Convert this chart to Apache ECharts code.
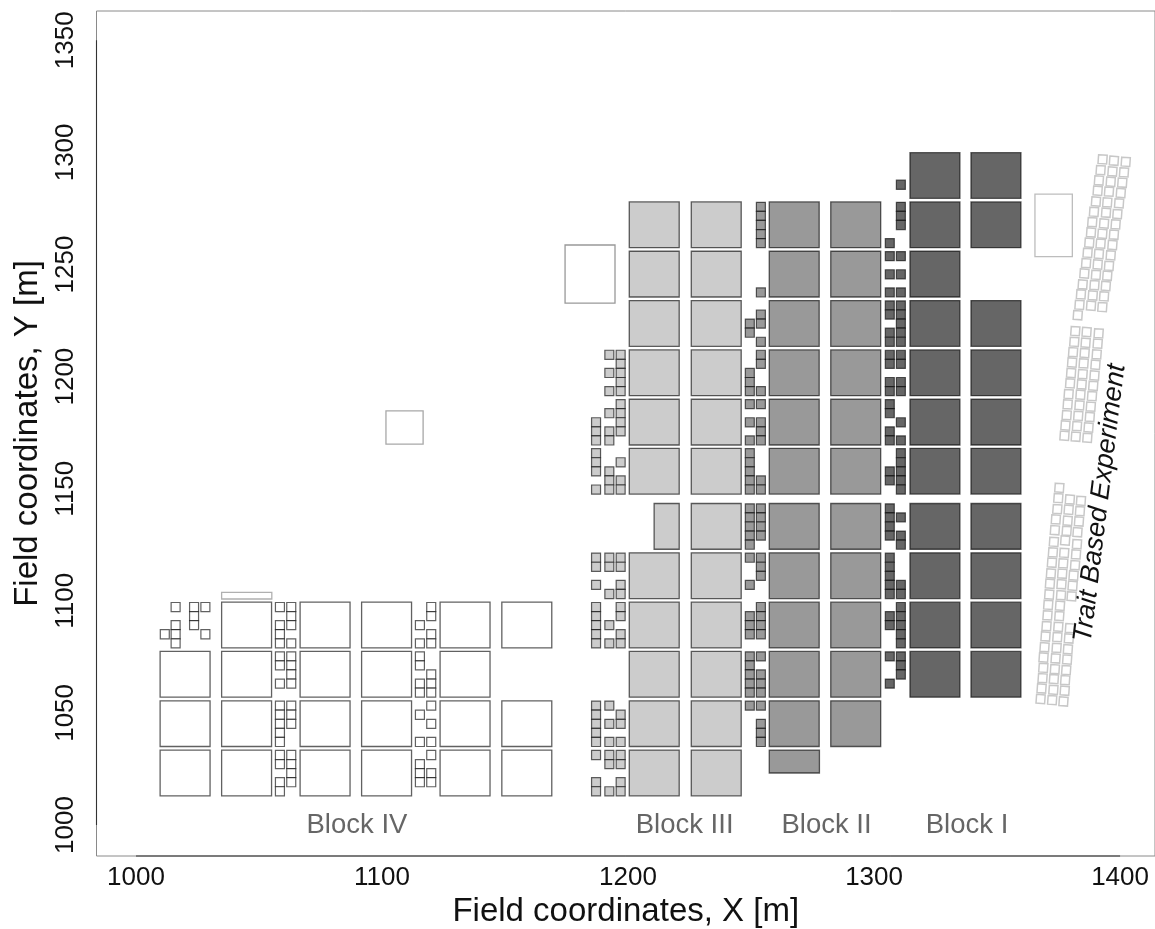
<!DOCTYPE html>
<html><head><meta charset="utf-8">
<style>html,body{margin:0;padding:0;background:#fff}#c{width:1155px;height:929px}</style>
<script src="https://cdn.jsdelivr.net/npm/echarts@6/dist/echarts.min.js"></script>
</head><body><div id="c"></div>
<script>
// ---- data (field metres) ----
const xTicks=[1000,1100,1200,1300,1400];
const yTicks=[1000,1050,1100,1150,1200,1250,1300,1350];
const blockLabels=[["Block IV",1089.8,1000],["Block III",1223,1000],["Block II",1280.7,1000],["Block I",1337.8,1000]];
const traitLabel=["Trait Based Experiment",1391.9,1143.6];
// bottom edge of each whole-plot row
const rowBottoms=[1013,1035,1057,1079,1101,1123,1147.6,1169.5,1191.5,1213.5,1235.5,1257.5,1279.5];
// [left edge, row indices]
const plotsIV=[[1009.8,[0,1,2]],[1034.8,[0,1,2,3]],[1066.7,[0,1,2,3]],[1091.7,[0,1,2,3]],[1123.6,[0,1,2,3]],[1148.7,[0,1,3]]];
const plotsIII=[[1200.5,[0,1,2,3,4,6,7,8,9,10,11]],[1225.7,[0,1,2,3,4,5,6,7,8,9,10,11]]];
const plotsII=[[1257.4,[1,2,3,4,5,6,7,8,9,10,11]],[1282.4,[1,2,3,4,5,6,7,8,9,10,11]]];
const plotsI=[[1314.6,[2,3,4,5,6,7,8,9,10,11,12]],[1339.4,[2,3,4,5,6,7,8,9,11,12]]];
// explicit rectangles [x0,y0,x1,y1]
const partialIII=[[1210.6,1123,1220.8,1143.4]];
const partialII=[[1257.4,1023.2,1277.8,1033.4]];
const thinIV=[[1034.8,1100.8,1055.2,1103.8]];
const isolatedA=[[1101.6,1169.9,1116.7,1184.7]];
const isolatedB=[[1174.4,1232.8,1194.7,1258.7]];
const isolatedC=[[1365.4,1253.5,1380.6,1281.4]];
// sub-plots: [column centre, row index, occupied slots from the bottom of that row]
const smallIV=[
 [1011.7,3,[1]],[1016.1,3,[4,2,1,0]],[1023.6,3,[4,3,2]],[1028.2,3,[4,1]],
 [1058.5,3,[4,2,1,0]],[1063.1,3,[4,3,2,0]],[1058.5,2,[4,3,1]],[1063.1,2,[4,3,2,1]],
 [1058.5,1,[4,3,2,1,0]],[1063.1,1,[4,3,2]],[1058.5,0,[4,3,1,0]],[1063.1,0,[4,3,2,1]],
 [1115.4,3,[2,0]],[1120,3,[4,3,1,0]],[1115.4,2,[4,3,1,0]],[1120,2,[2,1,0]],
 [1115.4,1,[3,0]],[1120,1,[4,2,0]],[1115.4,0,[3,2,1]],[1120,0,[4,2,1]]];
const smallIII=[
 [1187,8,[]],[1192.4,8,[4,2,0]],[1197,8,[4,3,2,1,0]],
 [1187,7,[2,1,0]],[1192.4,7,[3,1,0]],[1197,7,[4,3,2,1]],
 [1187,6,[4,3,2,0]],[1192.4,6,[2,1,0]],[1197,6,[3,1,0]],
 [1187,4,[4,3,1]],[1192.4,4,[4,3,0]],[1197,4,[4,3,1,0]],
 [1187,3,[4,3,2,1,0]],[1192.4,3,[2,0]],[1197,3,[4,3,1,0]],
 [1187,1,[4,3,2,1,0]],[1192.4,1,[4,2,0]],[1197,1,[3,2,0]],
 [1187,0,[4,1,0]],[1192.4,0,[4,3,0]],[1197,0,[4,3,1,0]]];
const smallII=[
 [1254,11,[4,3,2,1,0]],[1254,10,[0]],
 [1249.5,9,[2,1]],[1254,9,[3,2,0]],
 [1249.5,8,[2,1,0]],[1254,8,[4,3,0]],
 [1249.5,7,[4,2,0]],[1254,7,[4,2,1,0]],
 [1249.5,6,[4,3,2,1,0]],[1254,6,[1,0]],
 [1249.5,5,[4,3,2,1,0]],[1254,5,[4,3,2,1]],
 [1249.5,4,[4,1]],[1254,4,[4,3,2]],
 [1249.5,3,[3,2,1]],[1254,3,[4,3,2,1]],
 [1249.5,2,[4,3,2,1,0]],[1254,2,[4,2,1,0]],
 [1249.5,1,[4]],[1254,1,[4,2,1,0]]];
const smallI=[
 [1310.9,12,[1]],
 [1306.4,11,[0]],[1310.9,11,[4,3,2]],
 [1306.4,10,[4,2,0]],[1310.9,10,[4,2,0]],
 [1306.4,9,[4,3,1,0]],[1310.9,9,[4,3,2,1,0]],
 [1306.4,8,[4,3,1,0]],[1310.9,8,[4,3,1,0]],
 [1306.4,7,[4,3,1,0]],[1310.9,7,[2,0]],
 [1306.4,6,[2,1]],[1310.9,6,[4,3,2,1,0]],
 [1306.4,5,[4,3,2,1]],[1310.9,5,[3,1,0]],
 [1306.4,4,[4,3,2,1,0]],[1310.9,4,[1,0]],
 [1306.4,3,[3,2]],[1310.9,3,[4,3,2,1,0]],
 [1306.4,2,[4,1]],[1310.9,2,[4,3,2]]];
// trait-based experiment sub-plot centres [x,y]
const traitUpperA=[[1392.9,1296.9],[1392.1,1292.1],[1391.4,1287.5],[1390.9,1282.9],[1390.2,1278.1],[1389.4,1273.5],[1388.7,1268.9],[1388.2,1264.3],[1387.5,1259.7],[1386.8,1255.2],[1386.2,1250.6],[1385.5,1246.0],[1384.8,1241.1],[1384.1,1236.7],[1383.5,1232.0],[1382.8,1227.4]];
const traitUpperB=[[1397.5,1296.3],[1396.9,1291.5],[1396.2,1286.9],[1395.5,1282.5],[1394.8,1277.7],[1394.3,1273.1],[1393.5,1268.3],[1392.8,1263.7],[1392.1,1259.3],[1391.4,1254.7],[1390.9,1250.0],[1390.2,1245.4],[1389.6,1240.8],[1388.9,1236.2],[1388.2,1231.6]];
const traitUpperC=[[1402.3,1295.8],[1401.6,1291.1],[1400.9,1286.5],[1400.3,1281.9],[1399.6,1277.3],[1398.9,1272.5],[1398.2,1267.9],[1397.5,1263.3],[1396.9,1258.7],[1396.2,1254.1],[1395.5,1249.4],[1394.8,1245.0],[1394.2,1240.4],[1393.5,1235.8],[1392.8,1231.0]];
const traitMidA=[[1381.8,1220.3],[1381.4,1215.5],[1380.9,1210.9],[1380.5,1206.3],[1380.1,1201.6],[1379.7,1197.0],[1379.1,1192.2],[1378.7,1187.6],[1378.3,1182.8],[1377.8,1178.2],[1377.4,1173.6]];
const traitMidB=[[1386.4,1219.9],[1386.0,1215.1],[1385.6,1210.5],[1385.2,1205.9],[1384.8,1201.1],[1384.4,1196.5],[1383.9,1191.9],[1383.5,1187.2],[1383.0,1182.5],[1382.5,1177.9],[1382.0,1173.2]];
const traitMidC=[[1391.3,1219.3],[1390.9,1214.7],[1390.5,1209.9],[1390.0,1205.3],[1389.6,1200.5],[1389.1,1195.9],[1388.6,1191.3],[1388.1,1186.6],[1387.7,1182.0],[1387.2,1177.3],[1386.7,1172.7]];
const traitLowA=[[1375.3,1150.4],[1374.9,1145.8],[1374.5,1140.9],[1373.9,1136.3],[1373.5,1131.5],[1373.1,1126.3],[1372.7,1121.6],[1372.3,1117.0],[1371.9,1112.2],[1371.5,1107.6],[1371.2,1102.8],[1370.8,1098.2],[1370.5,1093.5],[1370.1,1088.7],[1369.7,1084.1],[1369.3,1079.3],[1368.9,1074.7],[1368.8,1070.1],[1368.5,1065.5],[1368.1,1060.9],[1367.7,1056.2]];
const traitLowB=[[1379.6,1145.2],[1379.1,1140.6],[1378.7,1135.7],[1378.3,1131.2],[1377.7,1126.9],[1377.3,1121.4],[1376.9,1116.7],[1376.5,1112.1],[1376.2,1107.4],[1376.0,1102.5],[1375.6,1097.8],[1375.3,1093.2],[1374.9,1088.4],[1374.5,1083.8],[1374.2,1079.0],[1373.8,1074.3],[1373.5,1069.5],[1373.1,1065.1],[1372.9,1060.3],[1372.4,1055.7]];
const traitLowC=[[1384.1,1144.6],[1383.7,1140.0],[1383.3,1135.4],[1382.7,1130.6],[1382.5,1125.3],[1382.1,1120.7],[1381.7,1115.9],[1381.1,1111.3],[1380.7,1106.7],[1380.3,1102.0],[1379.6,1087.8],[1379.2,1083.2],[1378.8,1078.4],[1378.5,1073.8],[1378.1,1069.1],[1377.7,1064.6],[1377.5,1059.9],[1377.0,1055.1]];
const axisSpanX=[[1000,986.17],[1400,986.17]];
const axisSpanY=[[983.94,1000],[983.94,1350]];

// ---- build ----
const FONT='"Liberation Sans",Arial,sans-serif';
const PLOT_W=20.3, PLOT_H=20.4, SUB_W=3.65, SUB_H=4.05;
function plotRects(cols){const o=[];cols.forEach(([x,rows])=>rows.forEach(r=>o.push([x,rowBottoms[r],x+PLOT_W,rowBottoms[r]+PLOT_H])));return o;}
function subRects(list){const o=[];list.forEach(([c,r,slots])=>slots.forEach(k=>{const y=rowBottoms[r]+k*SUB_H;o.push([c-SUB_W/2,y,c+SUB_W/2,y+SUB_H]);}));return o;}
function rectSeries(data,fill,stroke,lw){return{type:'custom',coordinateSystem:'cartesian2d',silent:true,animation:false,clip:true,data,
 encode:{x:[0,2],y:[1,3]},
 renderItem(p,api){const a=api.coord([api.value(0),api.value(3)]),b=api.coord([api.value(2),api.value(1)]);
  return{type:'rect',shape:{x:a[0],y:a[1],width:b[0]-a[0],height:b[1]-a[1]},style:{fill,stroke,lineWidth:lw}};}};}
const TILT=4*Math.PI/180, HW=1.75, HH=1.95;
function traitSeries(data){return{type:'custom',coordinateSystem:'cartesian2d',silent:true,animation:false,data,
 encode:{x:0,y:1},
 renderItem(p,api){const c=api.coord([api.value(0),api.value(1)]),ux=api.size([1,1]);
  const w=HW*ux[0],h=HH*ux[1],cs=Math.cos(TILT),sn=Math.sin(TILT);
  const pts=[[-w,-h],[w,-h],[w,h],[-w,h]].map(([a,b])=>[c[0]+a*cs-b*sn,c[1]+a*sn+b*cs]);
  return{type:'polygon',shape:{points:pts},style:{fill:'#fff',stroke:'#c8c8c8',lineWidth:1.5}};}};}
function lineSeries(data){return{type:'line',data,showSymbol:false,silent:true,animation:false,clip:false,lineStyle:{color:'#333',width:1.1}};}
const dark='rgba(0,0,0,0.62)';
const textSeries={type:'custom',coordinateSystem:'cartesian2d',silent:true,animation:false,clip:false,
 data:blockLabels.map(b=>[b[1],b[2]]),encode:{x:0,y:1},
 renderItem(p,api){const c=api.coord([api.value(0),api.value(1)]);
  return{type:'text',x:c[0],y:c[1],style:{text:blockLabels[p.dataIndex][0],fill:'#666',font:'27.5px '+FONT,textAlign:'center',textVerticalAlign:'middle'}};}};
const traitText={type:'custom',coordinateSystem:'cartesian2d',silent:true,animation:false,clip:false,
 data:[[traitLabel[1],traitLabel[2]]],encode:{x:0,y:1},
 renderItem(p,api){const c=api.coord([api.value(0),api.value(1)]);
  return{type:'text',x:c[0],y:c[1],rotation:83*Math.PI/180,style:{text:traitLabel[0],fill:'#111',font:'italic 27px '+FONT,textAlign:'center',textVerticalAlign:'middle'}};}};
const chart=echarts.init(document.getElementById('c'),null,{renderer:'canvas'});
chart.setOption({animation:false,backgroundColor:'#fff',
 grid:{left:96.5,right:0,top:11,bottom:73,outerBoundsMode:'none',show:true,borderColor:'#8a8a8a',borderWidth:1,backgroundColor:'#fff'},
 xAxis:{type:'value',min:983.94,max:1414.2,splitLine:{show:false},axisLine:{show:false},axisTick:{show:false},
  axisLabel:{customValues:xTicks,formatter:v=>String(v),fontFamily:FONT,fontSize:26,color:'#111',margin:9,hideOverlap:false,showMinLabel:true,showMaxLabel:true},
  name:'Field coordinates, X [m]',nameLocation:'middle',nameGap:52,nameTextStyle:{fontFamily:FONT,fontSize:33,color:'#111',verticalAlign:'middle'}},
 yAxis:{type:'value',min:986.17,max:1363.07,splitLine:{show:false},axisLine:{show:false},axisTick:{show:false},
  axisLabel:{customValues:yTicks,formatter:v=>String(v),rotate:90,fontFamily:FONT,fontSize:26,color:'#111',margin:18,showMinLabel:true,showMaxLabel:true},
  name:'Field coordinates, Y [m]',nameLocation:'middle',nameGap:62,nameTextStyle:{fontFamily:FONT,fontSize:33,color:'#111',verticalAlign:'middle'}},
 series:[
  lineSeries(axisSpanX),lineSeries(axisSpanY),
  rectSeries(plotRects(plotsIV),'#fff',dark,1.3),
  rectSeries(plotRects(plotsIII).concat(partialIII),'#cccccc',dark,1.3),
  rectSeries(plotRects(plotsII).concat(partialII),'#999999',dark,1.3),
  rectSeries(plotRects(plotsI),'#666666',dark,1.3),
  rectSeries(subRects(smallIV),'#fff',dark,1.2),
  rectSeries(subRects(smallIII),'#cccccc',dark,1.2),
  rectSeries(subRects(smallII),'#999999',dark,1.2),
  rectSeries(subRects(smallI),'#666666',dark,1.2),
  rectSeries(thinIV,'#fff','#b0b0b0',1.3),
  rectSeries(isolatedA,'#fff','#a8a8a8',1.3),
  rectSeries(isolatedB,'#fff','#999',1.3),
  rectSeries(isolatedC,'#fff','#bdbdbd',1.3),
  ...[traitUpperA,traitUpperB,traitUpperC,traitMidA,traitMidB,traitMidC,traitLowA,traitLowB,traitLowC].map(traitSeries),
  textSeries,traitText
 ]});
</script></body></html>
